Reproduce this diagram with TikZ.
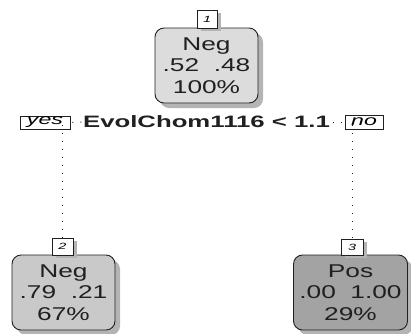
\documentclass[tikz,border=0pt]{standalone}
\usepackage{fontspec}
\setmainfont{Liberation Sans}
\newfontfamily\nodefont[FakeStretch=1.42]{Liberation Sans}
\newfontfamily\splitfont[FakeStretch=1.56]{Liberation Sans}
\newfontfamily\tagfont[FakeStretch=1.6]{Liberation Sans}
\definecolor{shade}{HTML}{B4B4B4}
\definecolor{rootfill}{HTML}{DCDCDC}
\definecolor{leftfill}{HTML}{C9C9C9}
\definecolor{rightfill}{HTML}{A3A3A3}
\definecolor{ink}{HTML}{202020}
\usetikzlibrary{shadows}
\tikzset{
  treebox/.style={draw=ink, line width=0.9pt, rounded corners=9pt, align=center,
    inner sep=0pt, minimum height=75pt, text=ink,
    font=\nodefont\fontsize{18.5}{21.5}\selectfont,
    drop shadow={shadow xshift=5pt, shadow yshift=-5pt, fill=shade, opacity=1}},
  numtag/.style={draw=ink, fill=white, line width=0.9pt, inner sep=0pt,
    font=\tagfont\itshape\fontsize{9}{9}\selectfont,
    drop shadow={shadow xshift=4pt, shadow yshift=-3pt, fill=shade, opacity=1}},
  answer/.style={draw=ink, fill=white, line width=0.8pt, inner sep=0pt,
    font=\tagfont\itshape\fontsize{14.5}{14.5}\selectfont},
  tie/.style={ink, line width=1pt, dash pattern=on 1pt off 7pt},
}
\begin{document}
\begin{tikzpicture}[x=1pt,y=-1pt]
\useasboundingbox (0,0) rectangle (411,333);
% nodes
\node[treebox, fill=rootfill, minimum width=103pt] (n1) at (206.5,65.5) {Neg\\.52\ \ .48\\100\%};
\node[numtag, minimum width=20pt, minimum height=18pt] (l1) at (207,19) {1};
\node[treebox, fill=leftfill, minimum width=103pt] (n2) at (63.5,292.5) {Neg\\.79\ \ .21\\67\%};
\node[numtag, minimum width=21pt, minimum height=17pt] (l2) at (62.5,246.5) {2};
\node[treebox, fill=rightfill, minimum width=114pt] (n3) at (350.5,292.5) {Pos\\.00\ \ 1.00\\29\%};
\node[numtag, minimum width=22pt, minimum height=16pt] (l3) at (352,247) {3};
% split
\node[font=\splitfont\bfseries\fontsize{16.5}{16.5}\selectfont, text=ink, inner sep=0pt] (split) at (206.5,122) {EvolChom1116 < 1.1};
\node[answer, minimum width=50pt, minimum height=13pt] (yes) at (45,122.5) {yes};
\node[answer, minimum width=38pt, minimum height=14pt] (no) at (364,122) {no};
% connectors
\draw[tie] ([xshift=2pt]yes.east) -- (split.west);
\draw[tie] ([xshift=3pt]split.east) -- (no.west);
\draw[tie] ([yshift=4pt]l2.north |- yes.south) -- (l2.north);
\draw[tie] ([yshift=4pt]l3.north |- no.south) -- (l3.north);
\end{tikzpicture}
\end{document}
